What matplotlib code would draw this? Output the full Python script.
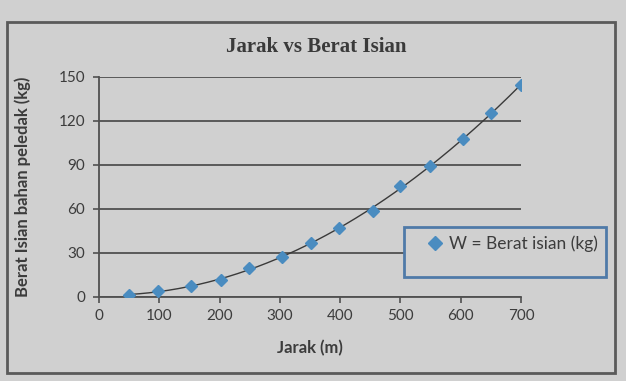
import numpy as np
import matplotlib
matplotlib.use("Agg")
import matplotlib.pyplot as plt
from matplotlib.patches import Rectangle
from matplotlib.lines import Line2D

# ── data ─────────────────────────────────────────────────────────────────────
jarak = [50, 98, 153, 202, 249, 303, 351, 398, 454, 499, 549, 604, 650, 700]
berat = [1.5, 4, 7.5, 11.5, 19.5, 27.5, 37, 47, 58.5, 75.5, 89.5, 107.5, 125.5, 144.5]

x_ticks = [0, 100, 200, 300, 400, 500, 600, 700]
y_ticks = [0, 30, 60, 90, 120, 150]

BG = "#d0d0d0"
GRID = "#505050"
MARK = "#4a8cc0"
TXT = "#3c3c3c"

fig = plt.figure(figsize=(6.26, 3.81), dpi=100, facecolor=BG)
W, H = 626, 381

# axes placed in pixel terms
x0, x1, y0, y1 = 99, 521, 297, 77
ax = fig.add_axes([x0 / W, 1 - y0 / H, (x1 - x0) / W, (y0 - y1) / H])
ax.set_facecolor(BG)

# trendline (polynomial fit to the points)
coef = np.polyfit(jarak, berat, 3)
xs = np.linspace(min(jarak), max(jarak), 200)
ax.plot(xs, np.polyval(coef, xs), color="#3a3a3a", lw=1.0, zorder=2)
ax.plot(jarak, berat, ls="none", marker="D", ms=6.5, color=MARK,
        markeredgecolor=MARK, zorder=3)

ax.set_xlim(0, 700)
ax.set_ylim(0, 150)
ax.set_xticks(x_ticks)
ax.set_yticks(y_ticks)
ax.grid(True, axis="y", color=GRID, lw=1.3)
ax.set_axisbelow(True)
for s in ["top", "right"]:
    ax.spines[s].set_visible(False)
for s in ["left", "bottom"]:
    ax.spines[s].set_color(GRID)
    ax.spines[s].set_linewidth(1.3)
ax.tick_params(axis="both", colors=GRID, length=4, width=1.2, direction="out",
               labelsize=11, labelcolor=TXT)
ax.tick_params(axis="y", pad=6)
ax.tick_params(axis="x", pad=5)
for lbl in ax.get_xticklabels() + ax.get_yticklabels():
    lbl.set_family("Lato")

ax.set_xlabel("Jarak (m)", family="Lato", fontsize=12, fontweight="bold",
              color=TXT, labelpad=12)
ax.set_ylabel("Berat Isian bahan peledak (kg)", family="Lato", fontsize=12,
              fontweight="bold", color=TXT, labelpad=20)

fig.text(316 / W, 1 - 47 / H, "Jarak vs Berat Isian", ha="center", va="center",
         family="Liberation Serif", fontweight="bold", fontsize=15, color="#3a3a3a")

# outer chart border
fig.patches.append(Rectangle((7 / W, 1 - 373 / H), (615 - 7) / W, (373 - 22) / H,
                             transform=fig.transFigure, fill=False,
                             edgecolor="#5a5a5a", lw=2.0))

# legend box
handles = [Line2D([], [], ls="none", marker="D", ms=7, color=MARK),
           Line2D([], [], ls="none")]
leg = fig.legend(handles, ["W = Berat isian (kg)", " "],
                 loc="upper left", bbox_to_anchor=(404 / W, 1 - 277 / H, 202 / W, 50 / H),
                 mode="expand", frameon=True, fancybox=False, framealpha=1.0,
                 prop={"family": "Lato", "size": 12.5}, handletextpad=-0.5,
                 handlelength=2.6, labelspacing=0.0, borderpad=0.5,
                 borderaxespad=0.0)
leg.get_frame().set_facecolor(BG)
leg.get_frame().set_edgecolor("#4f7aa8")
leg.get_frame().set_linewidth(2.0)
for t in leg.get_texts():
    t.set_color(TXT)

fig.savefig("out.png", dpi=100, facecolor=BG)
